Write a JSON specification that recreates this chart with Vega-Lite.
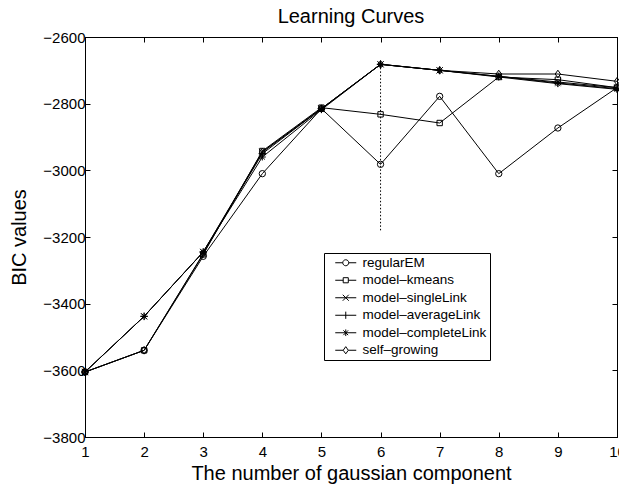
{
  "$schema": "https://vega.github.io/schema/vega-lite/v6.json",
  "width": 532,
  "height": 400,
  "autosize": {"type": "none"},
  "padding": {"left": 85, "top": 37, "right": 2, "bottom": 51},
  "title": {"text": "Learning Curves", "fontSize": 20, "fontWeight": "normal", "font": "Liberation Sans", "color": "black", "baseline": "alphabetic", "offset": -13},
  "datasets": {
    "curves": [
      {"n": 1, "bic": -3605, "method": "regularEM"},
      {"n": 2, "bic": -3540, "method": "regularEM"},
      {"n": 3, "bic": -3258, "method": "regularEM"},
      {"n": 4, "bic": -3010, "method": "regularEM"},
      {"n": 5, "bic": -2815, "method": "regularEM"},
      {"n": 6, "bic": -2982, "method": "regularEM"},
      {"n": 7, "bic": -2778, "method": "regularEM"},
      {"n": 8, "bic": -3010, "method": "regularEM"},
      {"n": 9, "bic": -2873, "method": "regularEM"},
      {"n": 10, "bic": -2752, "method": "regularEM"},
      {"n": 1, "bic": -3605, "method": "model–kmeans"},
      {"n": 2, "bic": -3540, "method": "model–kmeans"},
      {"n": 3, "bic": -3252, "method": "model–kmeans"},
      {"n": 4, "bic": -2942, "method": "model–kmeans"},
      {"n": 5, "bic": -2812, "method": "model–kmeans"},
      {"n": 6, "bic": -2832, "method": "model–kmeans"},
      {"n": 7, "bic": -2858, "method": "model–kmeans"},
      {"n": 8, "bic": -2720, "method": "model–kmeans"},
      {"n": 9, "bic": -2728, "method": "model–kmeans"},
      {"n": 10, "bic": -2752, "method": "model–kmeans"},
      {"n": 1, "bic": -3605, "method": "model–singleLink"},
      {"n": 2, "bic": -3438, "method": "model–singleLink"},
      {"n": 3, "bic": -3245, "method": "model–singleLink"},
      {"n": 4, "bic": -2945, "method": "model–singleLink"},
      {"n": 5, "bic": -2815, "method": "model–singleLink"},
      {"n": 6, "bic": -2682, "method": "model–singleLink"},
      {"n": 7, "bic": -2700, "method": "model–singleLink"},
      {"n": 8, "bic": -2718, "method": "model–singleLink"},
      {"n": 9, "bic": -2735, "method": "model–singleLink"},
      {"n": 10, "bic": -2752, "method": "model–singleLink"},
      {"n": 1, "bic": -3605, "method": "model–averageLink"},
      {"n": 2, "bic": -3438, "method": "model–averageLink"},
      {"n": 3, "bic": -3245, "method": "model–averageLink"},
      {"n": 4, "bic": -2950, "method": "model–averageLink"},
      {"n": 5, "bic": -2815, "method": "model–averageLink"},
      {"n": 6, "bic": -2682, "method": "model–averageLink"},
      {"n": 7, "bic": -2700, "method": "model–averageLink"},
      {"n": 8, "bic": -2718, "method": "model–averageLink"},
      {"n": 9, "bic": -2738, "method": "model–averageLink"},
      {"n": 10, "bic": -2755, "method": "model–averageLink"},
      {"n": 1, "bic": -3605, "method": "model–completeLink"},
      {"n": 2, "bic": -3438, "method": "model–completeLink"},
      {"n": 3, "bic": -3245, "method": "model–completeLink"},
      {"n": 4, "bic": -2960, "method": "model–completeLink"},
      {"n": 5, "bic": -2818, "method": "model–completeLink"},
      {"n": 6, "bic": -2682, "method": "model–completeLink"},
      {"n": 7, "bic": -2700, "method": "model–completeLink"},
      {"n": 8, "bic": -2720, "method": "model–completeLink"},
      {"n": 9, "bic": -2740, "method": "model–completeLink"},
      {"n": 10, "bic": -2757, "method": "model–completeLink"},
      {"n": 1, "bic": -3605, "method": "self–growing"},
      {"n": 2, "bic": -3540, "method": "self–growing"},
      {"n": 3, "bic": -3250, "method": "self–growing"},
      {"n": 4, "bic": -2945, "method": "self–growing"},
      {"n": 5, "bic": -2815, "method": "self–growing"},
      {"n": 6, "bic": -2682, "method": "self–growing"},
      {"n": 7, "bic": -2700, "method": "self–growing"},
      {"n": 8, "bic": -2711, "method": "self–growing"},
      {"n": 9, "bic": -2711, "method": "self–growing"},
      {"n": 10, "bic": -2733, "method": "self–growing"}
    ],
    "vline": [
      {"n": 6, "bic": -2682, "bic2": -3180}
    ]
  },
  "layer": [
    {
      "data": {"name": "curves"},
      "mark": {"type": "line", "color": "black", "strokeWidth": 1},
      "encoding": {
        "x": {"field": "n", "type": "quantitative", "scale": {"domain": [1, 10], "nice": false, "zero": false},
          "axis": {"orient": "bottom", "values": [1, 2, 3, 4, 5, 6, 7, 8, 9, 10], "title": "The number of gaussian component", "titlePadding": 4, "labelPadding": 12}},
        "y": {"field": "bic", "type": "quantitative", "scale": {"domain": [-3800, -2600], "nice": false, "zero": false},
          "axis": {"orient": "left", "values": [-3800, -3600, -3400, -3200, -3000, -2800, -2600], "format": "d", "title": "BIC values", "titlePadding": 13, "labelPadding": 5}},
        "detail": {"field": "method"}
      }
    },
    {
      "data": {"name": "vline"},
      "mark": {"type": "rule", "color": "black", "strokeWidth": 1, "strokeDash": [1.5, 2]},
      "encoding": {
        "x": {"field": "n", "type": "quantitative",
          "axis": {"orient": "top", "values": [1, 2, 3, 4, 5, 6, 7, 8, 9, 10], "labels": false, "title": null}},
        "y": {"field": "bic", "type": "quantitative",
          "axis": {"orient": "right", "values": [-3800, -3600, -3400, -3200, -3000, -2800, -2600], "labels": false, "title": null}},
        "y2": {"field": "bic2"}
      }
    },
    {
      "data": {"name": "curves"},
      "mark": {"type": "point", "filled": false, "stroke": "black", "strokeWidth": 1, "size": 40, "opacity": 1},
      "encoding": {
        "x": {"field": "n", "type": "quantitative", "axis": null},
        "y": {"field": "bic", "type": "quantitative", "axis": null},
        "shape": {"field": "method", "type": "nominal", "legend": null,
          "scale": {"domain": ["regularEM", "model–kmeans", "model–singleLink", "model–averageLink", "model–completeLink", "self–growing"],
            "range": ["circle", "M-0.85,-0.85L0.85,-0.85L0.85,0.85L-0.85,0.85Z", "M-1,-1L1,1M-1,1L1,-1", "M-1.2,0L1.2,0M0,-1.2L0,1.2", "M-1.1,0L1.1,0M0,-1.1L0,1.1M-0.8,-0.8L0.8,0.8M-0.8,0.8L0.8,-0.8", "M-0.85,0L0,-1.2L0.85,0L0,1.2Z"]}}
      }
    },
    {
      "data": {"name": "curves"},
      "mark": {"type": "point", "filled": false, "stroke": "black", "strokeWidth": 1, "size": 36, "opacity": 0},
      "encoding": {
        "x": {"field": "n", "type": "quantitative", "axis": null},
        "y": {"field": "bic", "type": "quantitative", "axis": null},
        "shape": {"field": "method", "type": "nominal",
          "scale": {"domain": ["regularEM", "model–kmeans", "model–singleLink", "model–averageLink", "model–completeLink", "self–growing"],
            "range": [
              "M-1,0A1,1,0,1,0,1,0A1,1,0,1,0,-1,0ZM-3.5,0L-1,0M1,0L3.5,0",
              "M-0.85,-0.85L0.85,-0.85L0.85,0.85L-0.85,0.85ZM-3.5,0L-0.85,0M0.85,0L3.5,0",
              "M-1,-1L1,1M-1,1L1,-1M-3.5,0L3.5,0",
              "M-3.5,0L3.5,0M0,-1.2L0,1.2",
              "M-3.5,0L3.5,0M0,-1.1L0,1.1M-0.8,-0.8L0.8,0.8M-0.8,0.8L0.8,-0.8",
              "M-0.85,0L0,-1.2L0.85,0L0,1.2ZM-3.5,0L-0.85,0M0.85,0L3.5,0"
            ]}}
      }
    }
  ],
  "resolve": {"scale": {"shape": "independent"}, "axis": {"x": "independent", "y": "independent"}},
  "config": {
    "font": "Liberation Sans",
    "view": {"stroke": "black", "strokeWidth": 1},
    "axis": {
      "grid": false, "domainColor": "black", "domainWidth": 1, "tickColor": "black", "tickSize": -5, "tickWidth": 1,
      "labelColor": "black", "labelFontSize": 15, "labelFont": "Liberation Sans", "titleFont": "Liberation Sans",
      "titleFontSize": 20, "titleFontWeight": "normal", "titleColor": "black", "labelFlush": false, "labelOverlap": false
    },
    "legend": {
      "orient": "none", "legendX": 239, "legendY": 216, "title": null,
      "strokeColor": "black", "fillColor": "white", "padding": 3,
      "labelFont": "Liberation Sans", "labelFontSize": 13.5, "labelColor": "black",
      "symbolSize": 36, "symbolStrokeColor": "black", "symbolStrokeWidth": 1, "symbolOpacity": 1, "symbolFillColor": "transparent",
      "symbolOffset": 12, "labelOffset": 10, "rowPadding": 2.5
    }
  }
}
